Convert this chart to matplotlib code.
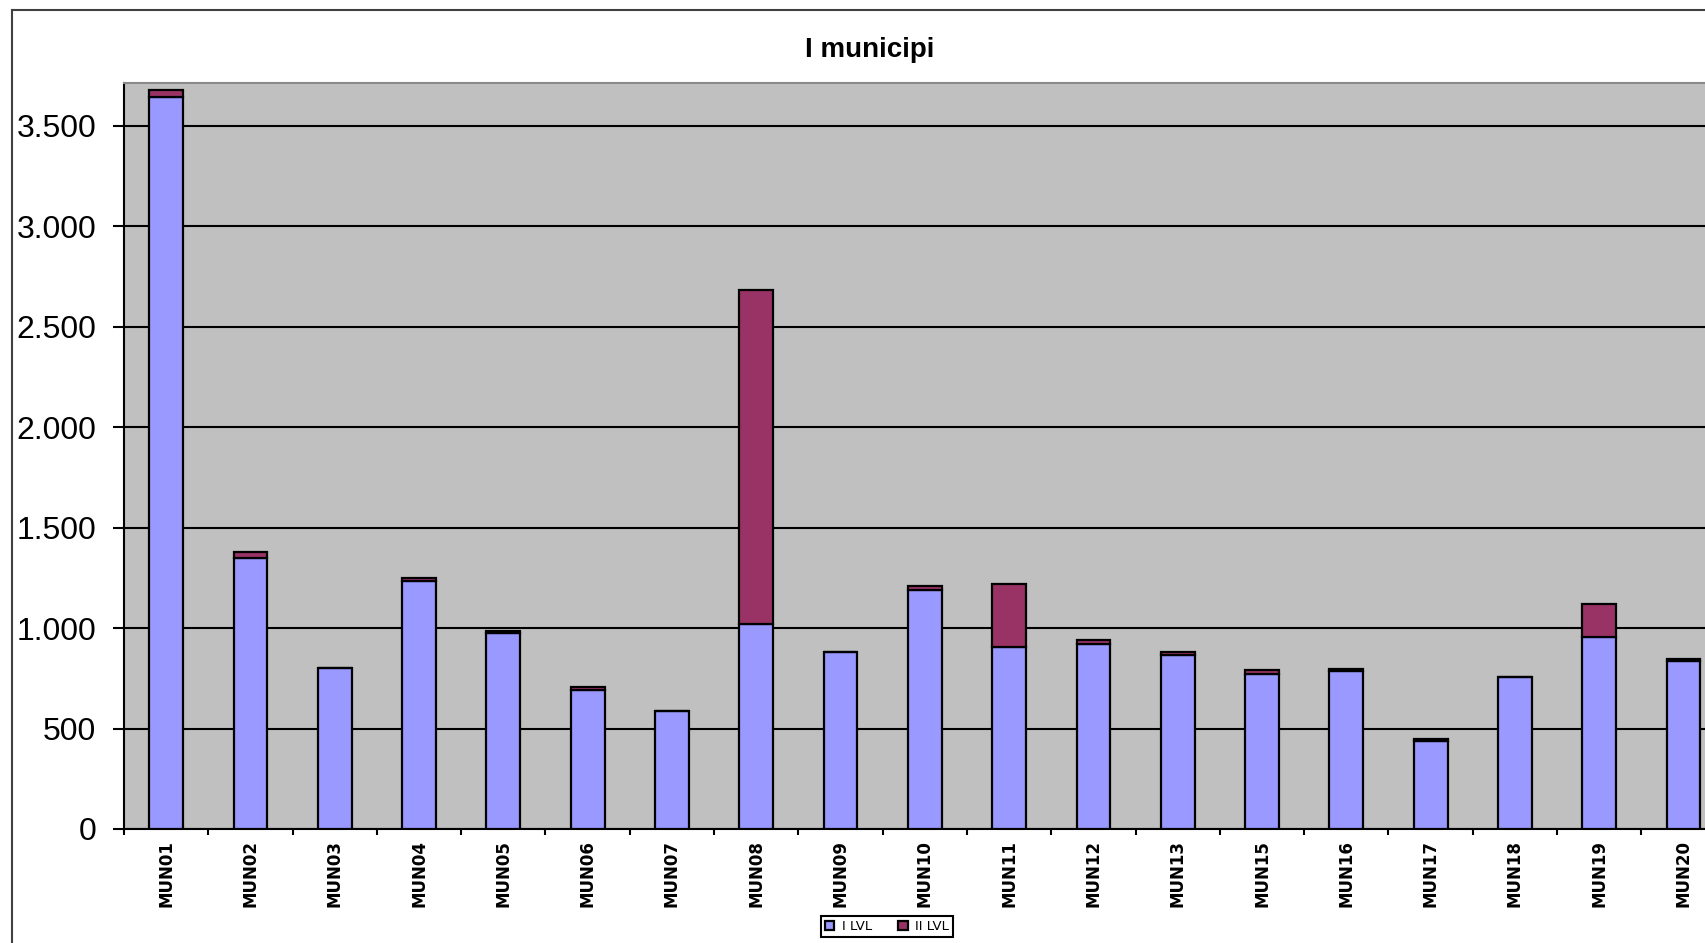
import matplotlib
matplotlib.use("Agg")
import matplotlib.pyplot as plt
from matplotlib.lines import Line2D
from matplotlib.ticker import FixedLocator, FixedFormatter
import numpy as np

categories = ["MUN01", "MUN02", "MUN03", "MUN04", "MUN05", "MUN06", "MUN07",
              "MUN08", "MUN09", "MUN10", "MUN11", "MUN12", "MUN13", "MUN15",
              "MUN16", "MUN17", "MUN18", "MUN19", "MUN20"]
i_lvl = [3643, 1347, 800, 1232, 977, 692, 587, 1018, 879, 1189, 907, 920, 867,
         771, 786, 438, 758, 957, 834]
ii_lvl = [34, 30, 0, 17, 9, 15, 0, 1664, 0, 20, 310, 19, 12, 18, 11, 11, 0, 161, 12]
series_names = ["I LVL", "II LVL"]
yticks = [0, 500, 1000, 1500, 2000, 2500, 3000, 3500]
ytick_labels = ["0", "500", "1.000", "1.500", "2.000", "2.500", "3.000", "3.500"]
title = "I municipi"

W, H = 1706, 943
fig = plt.figure(figsize=(W / 100, H / 100), dpi=100)
fig.patch.set_facecolor("white")

left_px, bottom_px, top_px = 124, 829, 83
ax = fig.add_axes([left_px / W, (H - bottom_px) / H, (W - left_px) / W, (bottom_px - top_px) / H])
ax.set_facecolor("#C0C0C0")

x = np.arange(len(categories))
bw = 0.40
ax.bar(x, i_lvl, width=bw, color="#9999FF", edgecolor="black", linewidth=1.6,
       label=series_names[0], zorder=3)
ax.bar(x, ii_lvl, width=bw, bottom=i_lvl, color="#993366", edgecolor="black",
       linewidth=1.6, label=series_names[1], zorder=3)

ax.set_xlim(-0.5, (W - left_px) / 84.3 - 0.5)
ax.set_ylim(0, 3712)

ax.yaxis.set_major_locator(FixedLocator(yticks))
ax.yaxis.set_major_formatter(FixedFormatter(ytick_labels))
ax.grid(axis="y", color="black", linewidth=1.5, zorder=1)
ax.set_axisbelow(True)
ax.tick_params(axis="y", direction="out", length=8, width=1.5, pad=12,
               labelsize=23, colors="black")
for lab in ax.get_yticklabels():
    lab.set_fontfamily("Liberation Sans")

# x ticks at category boundaries, labels at centres
ax.set_xticks(np.arange(len(categories)) - 0.5, minor=False)
ax.set_xticklabels([])
ax.tick_params(axis="x", which="major", direction="out", length=4, width=1.5)
ax.set_xticks(x, minor=True)
ax.set_xticklabels(categories, minor=True, rotation=90, fontsize=12,
                   fontweight="bold", fontfamily="DejaVu Sans", va="top")
ax.tick_params(axis="x", which="minor", length=0, pad=8)

ax.spines["right"].set_visible(False)
ax.spines["top"].set_color("#8a8a8a")
ax.spines["top"].set_linewidth(1.5)
ax.spines["left"].set_color("black")
ax.spines["left"].set_linewidth(1.5)
ax.spines["bottom"].set_color("black")
ax.spines["bottom"].set_linewidth(1.5)

fig.text(870 / W, 1 - 50 / H, title, ha="center", va="center", fontsize=20,
         fontweight="bold", fontfamily="Liberation Sans")

leg = fig.legend(loc="center", bbox_to_anchor=(887 / W, 1 - 926.5 / H), ncol=2,
                 fontsize=9.5, frameon=True, fancybox=False, edgecolor="black",
                 framealpha=1, handlelength=0.7, handleheight=0.7,
                 handletextpad=0.6, columnspacing=2.0, borderpad=0.3,
                 borderaxespad=0)
leg.get_frame().set_linewidth(1.5)

# outer chart frame (cropped on right and bottom)
fig.add_artist(Line2D([12 / W, 12 / W], [0, 1 - 10 / H], transform=fig.transFigure,
                      color="#404040", linewidth=1.5))
fig.add_artist(Line2D([12 / W, 1], [1 - 10 / H, 1 - 10 / H], transform=fig.transFigure,
                      color="#404040", linewidth=1.5))

fig.savefig("out.png", dpi=100)
